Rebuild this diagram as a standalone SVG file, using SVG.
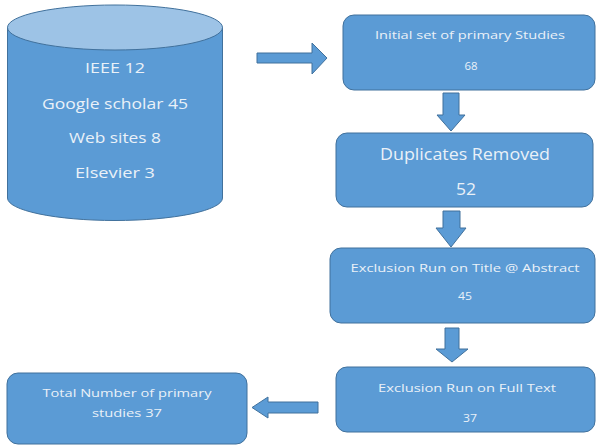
<svg xmlns="http://www.w3.org/2000/svg" width="597" height="446" viewBox="0 0 597 446">
  <style>
    .shape { fill: #5B9BD5; stroke: #41719C; stroke-width: 1; }
    .lid { fill: #9DC3E6; stroke: #41719C; stroke-width: 1; }
    .arrow { fill: #5B9BD5; stroke: #41719C; stroke-width: 1; }
    text { font-family: "Open Sans", "Liberation Sans", sans-serif; fill: #EAF1F8; text-anchor: middle; }
    .t15 { font-size: 14.5px; }
    .t11 { font-size: 11.5px; }
    .t16 { font-size: 16px; }
  </style>
  <rect x="0" y="0" width="597" height="446" fill="#ffffff"/>

  <!-- source database cylinder -->
  <g id="sources">
    <path class="shape" d="M7.5 27.5 L7.5 198 A107.5 22.5 0 0 0 222.5 198 L222.5 27.5 Z"/>
    <ellipse class="lid" cx="115" cy="27.5" rx="107.5" ry="22.5"/>
    <text class="t15" x="115" y="73" textLength="60" lengthAdjust="spacingAndGlyphs">IEEE 12</text>
    <text class="t15" x="115" y="109" textLength="146" lengthAdjust="spacingAndGlyphs">Google scholar 45</text>
    <text class="t15" x="115" y="143" textLength="92" lengthAdjust="spacingAndGlyphs">Web sites 8</text>
    <text class="t15" x="115" y="178" textLength="80" lengthAdjust="spacingAndGlyphs">Elsevier 3</text>
  </g>

  <g id="initial">
    <rect class="shape" x="343" y="15" width="252" height="75" rx="11"/>
    <text class="t11" x="470" y="39" textLength="190" lengthAdjust="spacingAndGlyphs">Initial set of primary Studies</text>
    <text class="t11" x="471" y="70" textLength="13" lengthAdjust="spacingAndGlyphs">68</text>
  </g>

  <g id="duplicates">
    <rect class="shape" x="336" y="133" width="257" height="74" rx="11"/>
    <text class="t16" x="465" y="160" textLength="170" lengthAdjust="spacingAndGlyphs">Duplicates Removed</text>
    <text class="t16" x="466" y="195" textLength="20" lengthAdjust="spacingAndGlyphs">52</text>
  </g>

  <g id="title-abstract">
    <rect class="shape" x="330" y="248" width="265" height="75" rx="11"/>
    <text class="t11" x="465" y="272" textLength="229" lengthAdjust="spacingAndGlyphs">Exclusion Run on Title @ Abstract</text>
    <text class="t11" x="465" y="300" textLength="14" lengthAdjust="spacingAndGlyphs">45</text>
  </g>

  <g id="full-text">
    <rect class="shape" x="336" y="367" width="259" height="65" rx="11"/>
    <text class="t11" x="467" y="392" textLength="178" lengthAdjust="spacingAndGlyphs">Exclusion Run on Full Text</text>
    <text class="t11" x="470" y="422" textLength="14" lengthAdjust="spacingAndGlyphs">37</text>
  </g>

  <g id="total">
    <rect class="shape" x="7" y="373" width="240" height="71" rx="11"/>
    <text class="t11" x="127" y="397" textLength="169" lengthAdjust="spacingAndGlyphs">Total Number of primary</text>
    <text class="t11" x="127" y="417" textLength="70" lengthAdjust="spacingAndGlyphs">studies 37</text>
  </g>

  <!-- block arrows between steps -->
  <g id="connectors">
    <path class="arrow" d="M257 53 L312 53 L312 43 L327 58 L312 74 L312 63 L257 63 Z"/>
    <path class="arrow" d="M443 93 L459 93 L459 115 L465 115 L451 131 L437 115 L443 115 Z"/>
    <path class="arrow" d="M443 211 L460 211 L460 228 L466 228 L451 247 L436 228 L443 228 Z"/>
    <path class="arrow" d="M445 328 L459 328 L459 349 L468 349 L452 362 L436 349 L445 349 Z"/>
    <path class="arrow" d="M318 402 L268 402 L268 397 L252 407.5 L268 418 L268 413 L318 413 Z"/>
  </g>
</svg>
